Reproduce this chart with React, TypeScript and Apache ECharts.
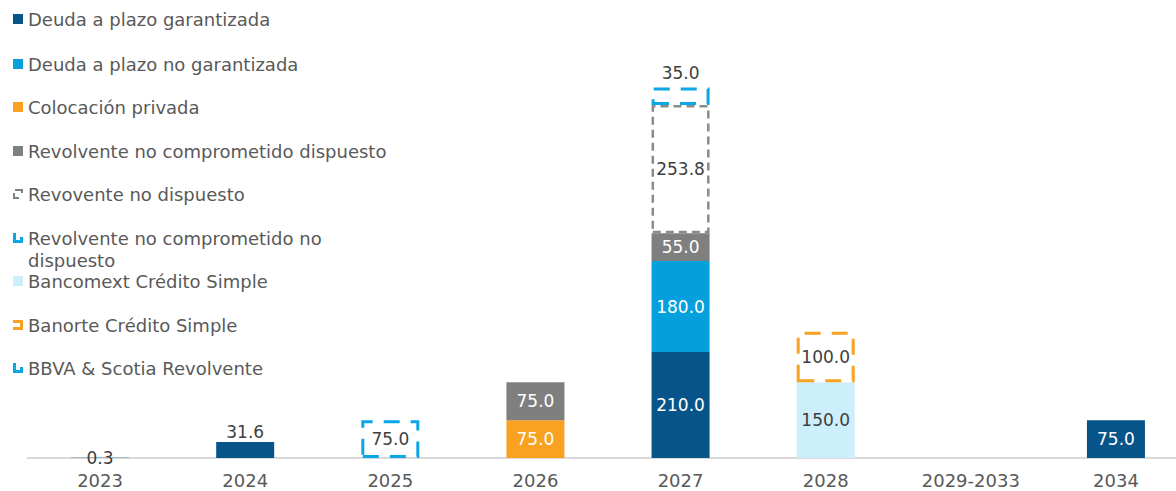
import React, { useEffect, useRef } from "react";
import * as echarts from "echarts";

const categories = ["2023", "2024", "2025", "2026", "2027", "2028", "2029-2033", "2034"];
const garantizada = [0.3, 31.6, null, null, 210, null, null, 75];
const noGarantizada = [null, null, null, null, 180, null, null, null];
const colocacion = [null, null, null, 75, null, null, null, null];
const revDispuesto = [null, null, null, 75, 55, null, null, null];
const bancomext = [null, null, null, null, null, 150, null, null];
const bbvaScotia = [null, null, 75, null, null, null, null, null];
const banorte = [null, null, null, null, null, 100, null, null];
const revNoDispuesto = [null, null, null, null, 253.8, null, null, null];
const revNoCompNoDisp = [null, null, null, null, 35, null, null, null];

const FONT = "DejaVu Sans";
const DARK = "#404040";
const TXT = "#595959";

const legendTops = [19, 64, 107, 151, 194, 238, 281, 325, 368];

const ICON_GRAY = "path://M2,0H10V4H8V2H2Z M0,4H2V8H6V10H0Z";
const ICON_L = "path://M0,0H3V7H7V4H10V10H0Z";
const ICON_BRACKET = "path://M0,0H10V10H0V7H7V3H0Z";

export default function App() {
  const ref = useRef<HTMLDivElement>(null);
  useEffect(() => {
    if (!ref.current) return;
    const chart = echarts.init(ref.current, undefined, { renderer: "svg" });
    const fmt = (p: any) => {
      const v = typeof p.value === "object" && p.value !== null ? p.value.value : p.value;
      return v == null ? "" : Number(v).toFixed(1);
    };
    const baseLabel = (color: string) => ({
      show: true,
      position: "inside",
      color,
      fontFamily: FONT,
      fontSize: 17,
      formatter: fmt,
    });
    const solid = (name: string, data: any[], color: string, labelColor: string) => ({
      name,
      type: "bar",
      stack: "total",
      barWidth: 58,
      data,
      itemStyle: { color },
      label: baseLabel(labelColor),
    });
    const dashed = (name: string, data: any[], color: string, width: number, dash: number[], z = 2) => ({
      name,
      type: "bar",
      stack: "total",
      barWidth: 58,
      z,
      data,
      itemStyle: { color: "#ffffff", borderColor: color, borderWidth: width, borderType: dash },
      label: baseLabel(DARK),
    });

    const garData = garantizada.map((v, i) => {
      if (i === 0) return { value: v, label: { color: DARK } };
      if (i === 1) return { value: v, label: { color: DARK, position: "top", distance: 2 } };
      return v;
    });
    const topData = revNoCompNoDisp.map((v) =>
      v == null ? v : { value: v, label: { position: "top", distance: 6 } }
    );

    const legendDefs: [string, string, string][] = [
      ["Deuda a plazo garantizada", "rect", "#07548a"],
      ["Deuda a plazo no garantizada", "rect", "#04a0dd"],
      ["Colocación privada", "rect", "#f9a120"],
      ["Revolvente no comprometido dispuesto", "rect", "#7f7f7f"],
      ["Revovente no dispuesto", ICON_GRAY, "#7f7f7f"],
      ["Revolvente no comprometido no dispuesto", ICON_L, "#0aa6e6"],
      ["Bancomext Crédito Simple", "rect", "#cdeefb"],
      ["Banorte Crédito Simple", ICON_BRACKET, "#f9a120"],
      ["BBVA & Scotia Revolvente", ICON_L, "#0aa6e6"],
    ];

    const legends = legendDefs.map(([name, icon, color], i) => ({
      show: true,
      orient: "vertical",
      left: 13,
      top: legendTops[i] - 9,
      padding: 0,
      itemWidth: 10,
      itemHeight: 10,
      itemGap: 0,
      selectedMode: false,
      formatter: (n: string) =>
        n === "Revolvente no comprometido no dispuesto" ? "Revolvente no comprometido no" : n,
      textStyle: { color: TXT, fontFamily: FONT, fontSize: 18 },
      data: [{ name, icon, itemStyle: { color, borderWidth: 0 } }],
    }));

    chart.setOption({
      animation: false,
      backgroundColor: "#ffffff",
      legend: legends,
      graphic: [
        {
          type: "text",
          left: 28,
          top: 251,
          style: { text: "dispuesto", fill: TXT, font: `18px "${FONT}"` },
        },
      ],
      grid: { left: 27.5, top: 54, width: 1161, height: 404, containLabel: false, outerBoundsMode: "none" },
      xAxis: {
        type: "category",
        data: categories,
        axisLine: { show: true, lineStyle: { color: "#d9d9d9", width: 2 } },
        axisTick: { show: false },
        axisLabel: { color: TXT, fontFamily: FONT, fontSize: 18, margin: 13, interval: 0 },
      },
      yAxis: {
        type: "value",
        min: 0,
        max: 800,
        show: false,
        splitLine: { show: false },
      },
      series: [
        solid("Deuda a plazo garantizada", garData, "#07548a", "#ffffff"),
        solid("Deuda a plazo no garantizada", noGarantizada, "#04a0dd", "#ffffff"),
        solid("Colocación privada", colocacion, "#f9a120", "#ffffff"),
        solid("Revolvente no comprometido dispuesto", revDispuesto, "#7f7f7f", "#ffffff"),
        solid("Bancomext Crédito Simple", bancomext, "#cdeefb", DARK),
        dashed("BBVA & Scotia Revolvente", bbvaScotia, "#0aa6e6", 3, [16, 11]),
        dashed("Banorte Crédito Simple", banorte, "#f9a120", 3, [16, 11]),
        dashed("Revovente no dispuesto", revNoDispuesto, "#8a8a8a", 2.5, [8, 5], 3),
        dashed("Revolvente no comprometido no dispuesto", topData, "#0aa6e6", 3, [16, 11], 2),
      ],
    });
    return () => chart.dispose();
  }, []);
  return (
    <div
      ref={ref}
      style={{ position: "absolute", left: 0, top: 0, width: 1176, height: 491 }}
    />
  );
}
